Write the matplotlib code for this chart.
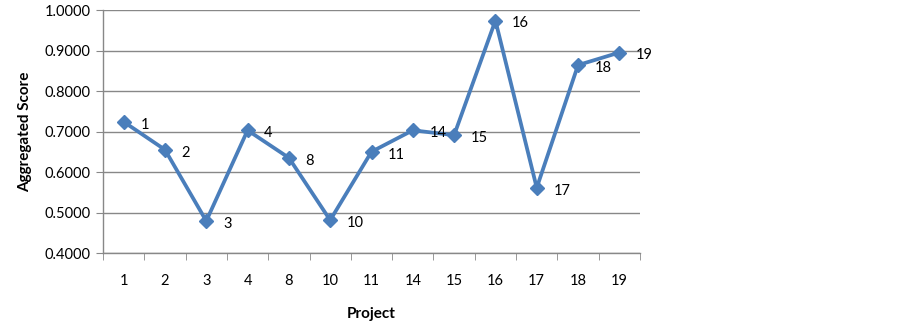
import matplotlib
matplotlib.use("Agg")
import matplotlib.pyplot as plt
import numpy as np

projects = ["1", "2", "3", "4", "8", "10", "11", "14", "15", "16", "17", "18", "19"]
scores = [0.724, 0.655, 0.479, 0.703, 0.635, 0.481, 0.650, 0.703, 0.691, 0.974, 0.561, 0.864, 0.895]
y_ticks = [0.4, 0.5, 0.6, 0.7, 0.8, 0.9, 1.0]

plt.rcParams['font.family'] = ['Lato', 'DejaVu Sans']

fig = plt.figure(figsize=(9.02, 3.23), dpi=100)
ax = fig.add_axes([103/902, 1 - 253/323, 537/902, 243/323])

x = np.arange(len(projects))
line_color = "#4A7EBB"
ax.plot(x, scores, color=line_color, lw=2.7, marker="D", ms=7.5, mfc=line_color, mec=line_color, zorder=3)

for xi, yi, lab in zip(x, scores, projects):
    ax.annotate(lab, (xi, yi), xytext=(12, -2), textcoords="offset points",
                ha="left", va="center", fontsize=10.5, color="black")

ax.set_xlim(-0.5, len(projects) - 0.5)
ax.set_ylim(0.4, 1.0)
ax.set_yticks(y_ticks)
ax.set_yticklabels([f"{v:.4f}" for v in y_ticks])
ax.set_xticks(x)
ax.set_xticklabels(projects)
ax.set_xticks(np.arange(len(projects) + 1) - 0.5, minor=True)

ax.grid(axis="y", color="#888888", lw=1.0)
ax.set_axisbelow(True)
for s in ["top", "right"]:
    ax.spines[s].set_visible(False)
for s in ["left", "bottom"]:
    ax.spines[s].set_color("#888888")
    ax.spines[s].set_linewidth(1.0)

ax.tick_params(axis="x", which="major", length=0, pad=15, labelsize=10.5)
ax.tick_params(axis="x", which="minor", length=5, color="#888888", direction="out")
ax.tick_params(axis="y", length=5, color="#888888", labelsize=10.5, pad=4)

ax.set_xlabel("Project", fontsize=11, fontweight="bold", labelpad=14)
ax.set_ylabel("Aggregated Score", fontsize=11, fontweight="bold", labelpad=9)

fig.savefig("out.png", dpi=100)
